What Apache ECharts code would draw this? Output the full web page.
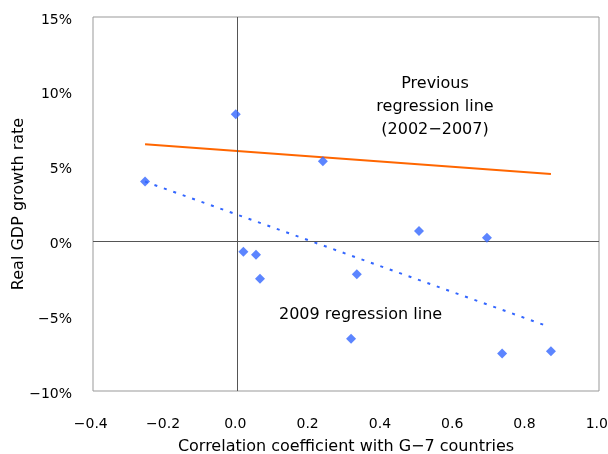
<!DOCTYPE html>
<html><head><meta charset="utf-8">
<script src="https://cdn.jsdelivr.net/npm/echarts@6/dist/echarts.min.js"></script>
<style>html,body{margin:0;padding:0;background:#fff}#c{width:608px;height:454px}</style>
</head><body><div id="c"></div>
<script>
const corr = [-0.256, -0.005, 0.016, 0.051, 0.062, 0.236, 0.314, 0.330, 0.502, 0.690, 0.732, 0.867];
const gdp  = [4.0, 8.5, -0.7, -0.9, -2.5, 5.35, -6.5, -2.2, 0.7, 0.25, -7.5, -7.35];
const prevLineX = [-0.256, 0.867];
const prevLineY = [6.5, 4.5];
const reg2009X = [-0.256, 0.85];
const reg2009Y = [4.0, -5.6];
const xTicks = [-0.4, 0.0, 1.0, 0.2];
const font = '"DejaVu Sans", sans-serif';
const minus = s => String(s).replace('-', '\u2212');
const chart = echarts.init(document.getElementById('c'));
chart.setOption({
  animation: false,
  grid: {left: 93, right: 9, top: 17, bottom: 63, show: true, borderColor: '#999', borderWidth: 1, outerBoundsMode: 'none', containLabel: false},
  xAxis: {type: 'value', min: xTicks[0], max: xTicks[2], interval: xTicks[3],
    name: 'Correlation coefficient with G\u22127 countries', nameLocation: 'middle', nameGap: 48, nameMoveOverlap: false,
    nameTextStyle: {fontFamily: font, fontSize: 16, color: '#000'},
    axisLine: {show: false}, axisTick: {show: false}, splitLine: {show: false},
    axisLabel: {fontFamily: font, fontSize: 14, color: '#000', margin: 26, formatter: v => minus(v.toFixed(1)) + ' '}},
  yAxis: {type: 'value', min: -10, max: 15, interval: 5,
    name: 'Real GDP growth rate', nameLocation: 'middle', nameGap: 66, nameMoveOverlap: false,
    nameTextStyle: {fontFamily: font, fontSize: 16, color: '#000'},
    axisLine: {show: false}, axisTick: {show: false}, splitLine: {show: false},
    axisLabel: {fontFamily: font, fontSize: 14, color: '#000', margin: 21, verticalAlign: 'top', lineHeight: 6, formatter: v => minus(v) + '%'}},
  graphic: [
    {type: 'text', x: 435, y: 72, style: {text: 'Previous\nregression line\n(2002\u22122007)', align: 'center', fontFamily: font, fontSize: 16, lineHeight: 23, fill: '#000'}},
    {type: 'text', x: 279, y: 303, style: {text: '2009 regression line', fontFamily: font, fontSize: 16, lineHeight: 23, fill: '#000'}}
  ],
  series: [
    {type: 'line', data: prevLineX.map((x, i) => [x, prevLineY[i]]), symbol: 'none',
      lineStyle: {color: '#ff6600', width: 2}, z: 3,
      markLine: {silent: true, symbol: 'none', label: {show: false},
        lineStyle: {color: '#555', width: 1, type: 'solid'},
        data: [{xAxis: 0}, {yAxis: 0}]}},
    {type: 'line', data: reg2009X.map((x, i) => [x, reg2009Y[i]]), symbol: 'none',
      lineStyle: {color: '#3366ff', width: 2, type: [3, 7]}, z: 3},
    {type: 'scatter', data: corr.map((x, i) => [x, gdp[i]]), symbol: 'diamond', symbolSize: 10,
      itemStyle: {color: '#3366ff'}, z: 5}
  ]
});
</script></body></html>
